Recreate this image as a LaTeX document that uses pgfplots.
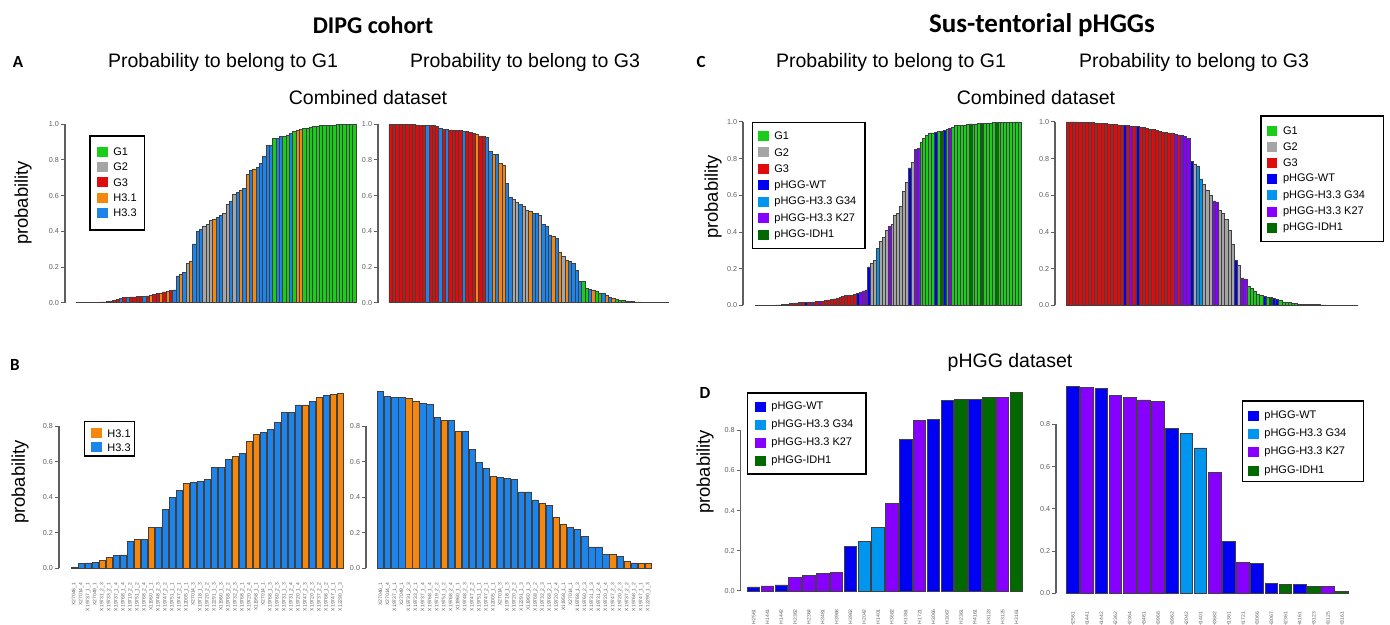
\documentclass[border=0pt]{standalone}
\usepackage{pgfplots}
\pgfplotsset{compat=1.18}
\usepackage{pgfplotstable}
\usepackage{fontspec}
\setmainfont{Liberation Sans}
\newfontfamily\carlito{Carlito}

% class codes: 1 G1, 2 G2, 3 G3, 4 H3.1, 5 H3.3, 6 pHGG-WT, 7 H3.3 G34, 8 H3.3 K27, 9 IDH1
\definecolor{c1}{RGB}{25,205,25}
\definecolor{c2}{RGB}{165,165,165}
\definecolor{c3}{RGB}{222,12,12}
\definecolor{c4}{RGB}{245,135,15}
\definecolor{c5}{RGB}{28,132,235}
\definecolor{c6}{RGB}{0,0,245}
\definecolor{c7}{RGB}{0,150,240}
\definecolor{c8}{RGB}{135,0,255}
\definecolor{c9}{RGB}{0,105,0}
\definecolor{tickgray}{RGB}{95,95,95}

\pgfplotsset{
  rbar/.style={
    scale only axis, clip=false,
    ymin=0, ymax=1,
    axis line style={draw=none},
    xtick=\empty,
    ytick pos=left, xtick pos=bottom,
    tick align=outside,
    major tick length=2pt,
    ytick style={draw=tickgray, line width=0.5pt},
    yticklabel style={font=\fontsize{3.6}{4}\selectfont, text=tickgray, inner sep=0.8pt},
    ytick={0,0.2,0.4,0.6,0.8,1},
    yticklabels={0.0,0.2,0.4,0.6,0.8,1.0},
  },
  rlab/.style={
    xtick={0,...,#1},
    xtick style={draw=none},
    xticklabel style={rotate=90, anchor=east, font=\fontsize{2.5}{3}\selectfont, text=tickgray, inner sep=0pt},
  },
}
% one bar series per colour class: table, class code, bar width, border width
\newcommand\cbar[4]{\addplot[ybar, bar width=#3, fill=c#2, draw=black!75, line width=#4,
  restrict expr to domain={\thisrow{c}}{#2:#2}] table[x=x,y=y]{#1};}

\newcommand\legfont{\fontsize{5.5}{6}\selectfont}
\newcommand\legitem[4]{%
  \fill[#3] (#1,#2-5) rectangle (#1+10.5,#2+5);
  \node[anchor=west, inner sep=0pt, font=\legfont] at (#1+16,#2) {#4};}

% ---------------- DIPG, probability G1 ----------------
\pgfplotstableread{
x y c
0 0.001 3
1 0.001 3
2 0.001 3
3 0.002 3
4 0.002 3
5 0.003 3
6 0.003 3
7 0.004 3
8 0.005 3
9 0.006 3
10 0.008 3
11 0.012 3
12 0.020 3
13 0.025 5
14 0.028 3
15 0.030 5
16 0.032 3
17 0.033 3
18 0.034 3
19 0.035 3
20 0.036 5
21 0.038 3
22 0.042 4
23 0.045 3
24 0.050 3
25 0.055 4
26 0.060 3
27 0.065 4
28 0.068 3
29 0.072 5
30 0.150 5
31 0.160 4
32 0.170 5
33 0.220 2
34 0.230 4
35 0.330 5
36 0.400 5
37 0.410 5
38 0.430 2
39 0.440 2
40 0.460 2
41 0.470 4
42 0.480 5
43 0.490 5
44 0.500 2
45 0.550 2
46 0.570 5
47 0.610 2
48 0.620 5
49 0.630 4
50 0.640 5
51 0.720 4
52 0.740 5
53 0.750 4
54 0.760 5
55 0.780 5
56 0.820 5
57 0.880 5
58 0.880 5
59 0.920 1
60 0.920 5
61 0.930 5
62 0.930 1
63 0.940 1
64 0.950 5
65 0.960 1
66 0.965 4
67 0.970 4
68 0.975 1
69 0.980 1
70 0.985 1
71 0.988 1
72 0.990 1
73 0.992 1
74 0.994 1
75 0.995 1
76 0.996 1
77 0.997 1
78 0.998 1
79 0.998 1
80 0.999 1
81 0.999 1
82 1.000 1
83 1.000 1
}\Aleft

% ---------------- DIPG, probability G3 ----------------
\pgfplotstableread{
x y c
0 1.000 3
1 1.000 3
2 1.000 3
3 1.000 3
4 0.999 3
5 0.999 3
6 0.998 3
7 0.998 3
8 0.997 3
9 0.996 3
10 0.995 3
11 0.995 5
12 0.993 3
13 0.992 3
14 0.990 3
15 0.975 5
16 0.972 3
17 0.970 5
18 0.968 3
19 0.967 3
20 0.966 3
21 0.965 3
22 0.962 5
23 0.958 3
24 0.955 3
25 0.950 3
26 0.945 4
27 0.935 3
28 0.930 3
29 0.925 5
30 0.850 5
31 0.830 4
32 0.830 5
33 0.780 4
34 0.770 4
35 0.670 5
36 0.590 5
37 0.580 2
38 0.560 2
39 0.550 5
40 0.540 2
41 0.520 2
42 0.510 4
43 0.500 5
44 0.500 5
45 0.490 2
46 0.440 5
47 0.430 5
48 0.380 5
49 0.370 4
50 0.360 5
51 0.280 4
52 0.260 2
53 0.240 4
54 0.230 5
55 0.220 5
56 0.180 5
57 0.120 5
58 0.120 1
59 0.080 1
60 0.075 5
61 0.070 4
62 0.065 1
63 0.055 1
64 0.050 5
65 0.040 4
66 0.030 5
67 0.025 4
68 0.020 1
69 0.015 1
70 0.012 1
71 0.010 1
72 0.008 1
73 0.006 1
74 0.005 1
75 0.004 1
76 0.003 1
77 0.003 1
78 0.002 1
79 0.002 1
80 0.001 1
81 0.001 1
82 0.001 1
83 0.001 1
}\Aright

% ---------------- DIPG H3 samples ----------------
\pgfplotstableread{
x y c
0 0.005 5
1 0.025 5
2 0.030 5
3 0.035 5
4 0.045 4
5 0.060 4
6 0.070 5
7 0.075 5
8 0.150 5
9 0.160 4
10 0.165 5
11 0.230 4
12 0.230 5
13 0.330 5
14 0.400 5
15 0.440 5
16 0.480 4
17 0.485 5
18 0.490 5
19 0.500 5
20 0.570 5
21 0.570 5
22 0.615 5
23 0.630 4
24 0.645 5
25 0.715 4
26 0.755 4
27 0.765 5
28 0.780 5
29 0.820 5
30 0.880 5
31 0.880 5
32 0.920 5
33 0.920 4
34 0.940 5
35 0.960 4
36 0.975 5
37 0.980 4
38 0.985 4
}\Bleft

\pgfplotstableread{
x y c
0 0.995 5
1 0.970 5
2 0.965 5
3 0.960 5
4 0.955 4
5 0.940 4
6 0.930 5
7 0.925 5
8 0.850 5
9 0.835 4
10 0.835 5
11 0.770 4
12 0.770 5
13 0.670 5
14 0.595 5
15 0.560 5
16 0.515 4
17 0.510 5
18 0.505 5
19 0.500 5
20 0.430 5
21 0.430 5
22 0.385 5
23 0.365 4
24 0.355 5
25 0.285 4
26 0.245 4
27 0.230 5
28 0.220 5
29 0.180 5
30 0.120 5
31 0.120 5
32 0.080 5
33 0.080 4
34 0.065 5
35 0.040 4
36 0.030 5
37 0.025 4
38 0.025 4
}\Bright

% ---------------- pHGG combined, G1 ----------------
\pgfplotstableread{
x y c
0 0.001 3
1 0.001 3
2 0.001 3
3 0.001 3
4 0.002 3
5 0.002 3
6 0.002 3
7 0.003 3
8 0.003 3
9 0.005 3
10 0.006 3
11 0.008 3
12 0.010 3
13 0.012 3
14 0.014 3
15 0.015 3
16 0.016 3
17 0.017 6
18 0.018 3
19 0.019 8
20 0.020 3
21 0.021 3
22 0.022 8
23 0.023 3
24 0.026 3
25 0.030 3
26 0.033 3
27 0.036 3
28 0.040 3
29 0.045 3
30 0.050 3
31 0.053 3
32 0.055 3
33 0.057 3
34 0.060 3
35 0.065 6
36 0.070 8
37 0.080 8
38 0.085 8
39 0.210 6
40 0.230 2
41 0.245 2
42 0.310 7
43 0.350 2
44 0.370 2
45 0.410 2
46 0.430 8
47 0.440 2
48 0.490 2
49 0.500 2
50 0.540 2
51 0.620 2
52 0.670 2
53 0.750 6
54 0.780 2
55 0.850 8
56 0.855 8
57 0.890 1
58 0.910 1
59 0.925 1
60 0.940 1
61 0.940 1
62 0.945 6
63 0.950 1
64 0.950 9
65 0.955 6
66 0.960 1
67 0.965 8
68 0.970 1
69 0.980 1
70 0.980 1
71 0.980 1
72 0.982 1
73 0.985 1
74 0.990 9
75 0.990 1
76 0.990 1
77 0.992 1
78 0.993 9
79 0.994 1
80 0.995 1
81 0.995 1
82 0.996 1
83 0.997 9
84 0.997 1
85 0.998 1
86 0.998 1
87 0.999 1
88 0.999 1
89 1.000 1
90 1.000 1
91 1.000 1
}\Cleft

% ---------------- pHGG combined, G3 ----------------
\pgfplotstableread{
x y c
0 1.000 3
1 1.000 3
2 1.000 3
3 1.000 3
4 0.999 3
5 0.999 3
6 0.998 3
7 0.997 3
8 0.996 3
9 0.995 3
10 0.994 3
11 0.993 3
12 0.992 3
13 0.990 3
14 0.988 3
15 0.986 3
16 0.984 3
17 0.982 3
18 0.980 6
19 0.980 3
20 0.978 8
21 0.977 3
22 0.975 6
23 0.972 3
24 0.970 3
25 0.965 3
26 0.960 3
27 0.958 3
28 0.955 3
29 0.950 3
30 0.945 3
31 0.942 3
32 0.940 3
33 0.940 3
34 0.935 8
35 0.930 3
36 0.925 8
37 0.920 8
38 0.910 8
39 0.785 6
40 0.770 2
41 0.760 7
42 0.690 7
43 0.660 2
44 0.630 2
45 0.600 2
46 0.570 8
47 0.565 8
48 0.520 2
49 0.500 2
50 0.470 2
51 0.410 2
52 0.335 2
53 0.245 6
54 0.220 2
55 0.150 8
56 0.145 8
57 0.105 1
58 0.095 1
59 0.080 1
60 0.060 1
61 0.055 1
62 0.050 6
63 0.045 1
64 0.045 9
65 0.040 6
66 0.035 6
67 0.030 1
68 0.020 1
69 0.018 1
70 0.015 1
71 0.012 1
72 0.010 1
73 0.008 1
74 0.007 9
75 0.006 1
76 0.005 1
77 0.005 1
78 0.004 1
79 0.004 9
80 0.003 1
81 0.003 1
82 0.002 1
83 0.002 1
84 0.002 1
85 0.001 1
86 0.001 1
87 0.001 1
88 0.001 1
89 0.000 1
90 0.000 1
91 0.000 1
}\Cright

% ---------------- pHGG dataset ----------------
\pgfplotstableread{
x y c
0 0.020 6
1 0.025 8
2 0.030 6
3 0.065 8
4 0.075 8
5 0.085 8
6 0.090 8
7 0.220 6
8 0.245 7
9 0.315 7
10 0.435 8
11 0.755 6
12 0.850 8
13 0.855 6
14 0.950 6
15 0.955 9
16 0.955 6
17 0.965 9
18 0.965 8
19 0.990 9
}\Dleft

\pgfplotstableread{
x y c
0 0.980 6
1 0.975 8
2 0.970 6
3 0.935 8
4 0.925 8
5 0.915 8
6 0.910 8
7 0.780 6
8 0.757 7
9 0.688 7
10 0.570 8
11 0.247 6
12 0.148 8
13 0.143 6
14 0.049 6
15 0.041 9
16 0.041 6
17 0.032 9
18 0.032 8
19 0.008 9
}\Dright

\def\Blabels{X27046\_1,X27014\_4,X19737\_1\_1,X27049\_1,X19731\_2\_3,X19733\_2\_1,X19737\_1\_4,X19768\_1\_4,X19719\_2\_2,X19751\_1\_2,X19768\_2\_4,X11960\_1\_1,X19748\_2\_3,X19747\_2\_2,X19751\_1\_1,X19747\_2\_1,X12005\_1\_1,X27014\_3,X19718\_1\_3,X19720\_2\_2,X12291\_1\_3,X11960\_1\_3,X19768\_2\_2,X19732\_2\_3,X19768\_2\_1,X19720\_2\_4,X11958\_1\_1,X27014\_1,X19768\_1\_3,X19760\_2\_3,X19731\_1\_3,X19731\_2\_4,X19720\_1\_4,X19747\_2\_3,X19720\_2\_3,X19737\_2\_2,X19768\_1\_2,X19747\_1\_1,X12290\_1\_3}
\def\Dlabels{H2561,H1441,H1442,H2362,H2364,H3481,H3968,H3962,H2042,H1401,H3682,H1361,H1721,H3066,H3067,H2361,H4161,H3123,H3125,H3161}

\begin{document}
\begin{tikzpicture}
\path[use as bounding box] (0,0) rectangle (695pt,312.5pt);

% A left
\begin{axis}[rbar, at={(32.5pt,161.15pt)}, anchor=south west, width=145.5pt, height=89.2pt, xmin=-3.8, xmax=83.5]
\cbar{\Aleft}{3}{1}{0.3pt}
\cbar{\Aleft}{2}{1}{0.3pt}
\cbar{\Aleft}{4}{1}{0.3pt}
\cbar{\Aleft}{5}{1}{0.3pt}
\cbar{\Aleft}{1}{1}{0.3pt}
\draw[tickgray, line width=0.6pt] (rel axis cs:0,0) -- (rel axis cs:0,1);
\end{axis}

% A right
\begin{axis}[rbar, at={(189pt,161.15pt)}, anchor=south west, width=145pt, height=89.2pt, xmin=-3.8, xmax=83.5]
\cbar{\Aright}{3}{1}{0.3pt}
\cbar{\Aright}{2}{1}{0.3pt}
\cbar{\Aright}{4}{1}{0.3pt}
\cbar{\Aright}{5}{1}{0.3pt}
\cbar{\Aright}{1}{1}{0.3pt}
\draw[tickgray, line width=0.6pt] (rel axis cs:0,0) -- (rel axis cs:0,1);
\end{axis}

% B left
\begin{axis}[rbar, rlab=38, xticklabels/.expand once=\Blabels, xticklabel shift=5pt,
  ytick={0,0.2,0.4,0.6,0.8}, yticklabels={0.0,0.2,0.4,0.6,0.8},
  at={(29.5pt,28.35pt)}, anchor=south west, width=142.5pt, height=88.75pt, xmin=-2.17, xmax=38.5]
\cbar{\Bleft}{4}{0.88}{0.45pt}
\cbar{\Bleft}{5}{0.88}{0.45pt}
\draw[tickgray, line width=0.6pt] (rel axis cs:0,0) -- (rel axis cs:0,0.8);
\end{axis}

% B right
\begin{axis}[rbar, rlab=38, xticklabels/.expand once=\Blabels, xticklabel shift=5pt,
  ytick={0,0.2,0.4,0.6,0.8}, yticklabels={0.0,0.2,0.4,0.6,0.8},
  at={(183pt,28.35pt)}, anchor=south west, width=142.85pt, height=88.75pt, xmin=-2.1, xmax=38.5]
\cbar{\Bright}{4}{0.88}{0.45pt}
\cbar{\Bright}{5}{0.88}{0.45pt}
\draw[tickgray, line width=0.6pt] (rel axis cs:0,0) -- (rel axis cs:0,0.8);
\end{axis}

% C left
\begin{axis}[rbar, at={(371.5pt,159.75pt)}, anchor=south west, width=139pt, height=91.75pt, xmin=-4.65, xmax=91.5]
\cbar{\Cleft}{3}{1}{0.3pt}
\cbar{\Cleft}{2}{1}{0.3pt}
\cbar{\Cleft}{6}{1}{0.3pt}
\cbar{\Cleft}{7}{1}{0.3pt}
\cbar{\Cleft}{8}{1}{0.3pt}
\cbar{\Cleft}{9}{1}{0.3pt}
\cbar{\Cleft}{1}{1}{0.3pt}
\draw[tickgray, line width=0.6pt] (rel axis cs:0,0) -- (rel axis cs:0,1);
\end{axis}

% C right
\begin{axis}[rbar, at={(527.5pt,159.75pt)}, anchor=south west, width=151.5pt, height=91.75pt, xmin=-3.97, xmax=91.5]
\cbar{\Cright}{3}{1}{0.3pt}
\cbar{\Cright}{2}{1}{0.3pt}
\cbar{\Cright}{6}{1}{0.3pt}
\cbar{\Cright}{7}{1}{0.3pt}
\cbar{\Cright}{8}{1}{0.3pt}
\cbar{\Cright}{9}{1}{0.3pt}
\cbar{\Cright}{1}{1}{0.3pt}
\draw[tickgray, line width=0.6pt] (rel axis cs:0,0) -- (rel axis cs:0,1);
\end{axis}

% D left
\begin{axis}[rbar, rlab=19, xticklabels/.expand once=\Dlabels, xticklabel shift=7pt,
  ytick={0,0.2,0.4,0.6,0.8}, yticklabels={0.0,0.2,0.4,0.6,0.8},
  at={(370.35pt,17pt)}, anchor=south west, width=141.3pt, height=100.5pt, xmin=-0.93, xmax=19.5]
\cbar{\Dleft}{6}{0.9}{0.45pt}
\cbar{\Dleft}{7}{0.9}{0.45pt}
\cbar{\Dleft}{8}{0.9}{0.45pt}
\cbar{\Dleft}{9}{0.9}{0.45pt}
\draw[tickgray, line width=0.6pt] (rel axis cs:0,0) -- (rel axis cs:0,0.8);
\end{axis}

% D right
\begin{axis}[rbar, rlab=19, xticklabels/.expand once=\Dlabels, xticklabel shift=7pt,
  ytick={0,0.2,0.4,0.6,0.8}, yticklabels={0.0,0.2,0.4,0.6,0.8},
  at={(528pt,15.75pt)}, anchor=south west, width=146.65pt, height=105.75pt, xmin=-1.2, xmax=19.5]
\cbar{\Dright}{6}{0.9}{0.45pt}
\cbar{\Dright}{7}{0.9}{0.45pt}
\cbar{\Dright}{8}{0.9}{0.45pt}
\cbar{\Dright}{9}{0.9}{0.45pt}
\draw[tickgray, line width=0.6pt] (rel axis cs:0,0) -- (rel axis cs:0,0.8);
\end{axis}

% ---------- texts and legends, in pixel units of the reference ----------
\begin{scope}[x=0.5pt, y=-0.5pt, yshift=312.5pt]
\node[font=\carlito\bfseries\fontsize{12}{14}\selectfont] at (373,25) {DIPG cohort};
\node[font=\carlito\bfseries\fontsize{13.5}{15}\selectfont] at (1042,25) {Sus-tentorial pHGGs};
\node[font=\carlito\bfseries\fontsize{8.5}{10}\selectfont] at (18,62) {A};
\node[font=\carlito\bfseries\fontsize{8.5}{10}\selectfont] at (701,62) {C};
\node[font=\carlito\bfseries\fontsize{8.5}{10}\selectfont] at (15,365) {B};
\node[font=\carlito\bfseries\fontsize{8.5}{10}\selectfont] at (705,393) {D};
\foreach \xx/\tt in {223/G1,525/G3,891/G1,1194/G3}
  \node[font=\fontsize{9.75}{11}\selectfont] at (\xx,62) {Probability to belong to \tt};
\node[font=\fontsize{9.75}{11}\selectfont] at (368,98) {Combined dataset};
\node[font=\fontsize{9.75}{11}\selectfont] at (1036,98) {Combined dataset};
\node[font=\fontsize{9.75}{11}\selectfont] at (1010,362) {pHGG dataset};
\foreach \xx/\yy in {23/203,713/197,20/482,705/472}
  \node[rotate=90, font=\fontsize{9.2}{10}\selectfont] at (\xx,\yy) {probability};

% legend A
\draw[fill=white, line width=0.7pt] (90,136) rectangle (144.3,230);
\legitem{97}{151.7}{c1}{G1}
\legitem{97}{167}{c2}{G2}
\legitem{97}{182.3}{c3}{G3}
\legitem{97}{197.6}{c4}{H3.1}
\legitem{97}{213}{c5}{H3.3}
% legend B
\draw[fill=white, line width=0.7pt] (84.3,421.7) rectangle (134.3,456);
\legitem{91}{433.3}{c4}{H3.1}
\legitem{91}{447.3}{c5}{H3.3}
% legend C left
\draw[fill=white, line width=0.7pt] (752.7,122.7) rectangle (865,248.3);
\legitem{758}{136}{c1}{G1}
\legitem{758}{152.5}{c2}{G2}
\legitem{758}{169}{c3}{G3}
\legitem{758}{185.5}{c6}{pHGG-WT}
\legitem{758}{202}{c7}{pHGG-H3.3 G34}
\legitem{758}{218.5}{c8}{pHGG-H3.3 K27}
\legitem{758}{235}{c9}{pHGG-IDH1}
% legend C right
\draw[fill=white, line width=0.7pt] (1261,116) rectangle (1383.3,241.7);
\legitem{1266.7}{130.7}{c1}{G1}
\legitem{1266.7}{146.9}{c2}{G2}
\legitem{1266.7}{163.1}{c3}{G3}
\legitem{1266.7}{179.3}{c6}{pHGG-WT}
\legitem{1266.7}{195.5}{c7}{pHGG-H3.3 G34}
\legitem{1266.7}{211.7}{c8}{pHGG-H3.3 K27}
\legitem{1266.7}{227.9}{c9}{pHGG-IDH1}
% legend D left
\draw[fill=white, line width=0.7pt] (747.3,393) rectangle (866,474);
\legitem{755}{406.7}{c6}{pHGG-WT}
\legitem{755}{424.7}{c7}{pHGG-H3.3 G34}
\legitem{755}{442.7}{c8}{pHGG-H3.3 K27}
\legitem{755}{460.7}{c9}{pHGG-IDH1}
% legend D right
\draw[fill=white, line width=0.7pt] (1242.3,401) rectangle (1363.3,481.7);
\legitem{1248}{415.7}{c6}{pHGG-WT}
\legitem{1248}{434}{c7}{pHGG-H3.3 G34}
\legitem{1248}{452.3}{c8}{pHGG-H3.3 K27}
\legitem{1248}{470.6}{c9}{pHGG-IDH1}
\end{scope}
\end{tikzpicture}
\end{document}
